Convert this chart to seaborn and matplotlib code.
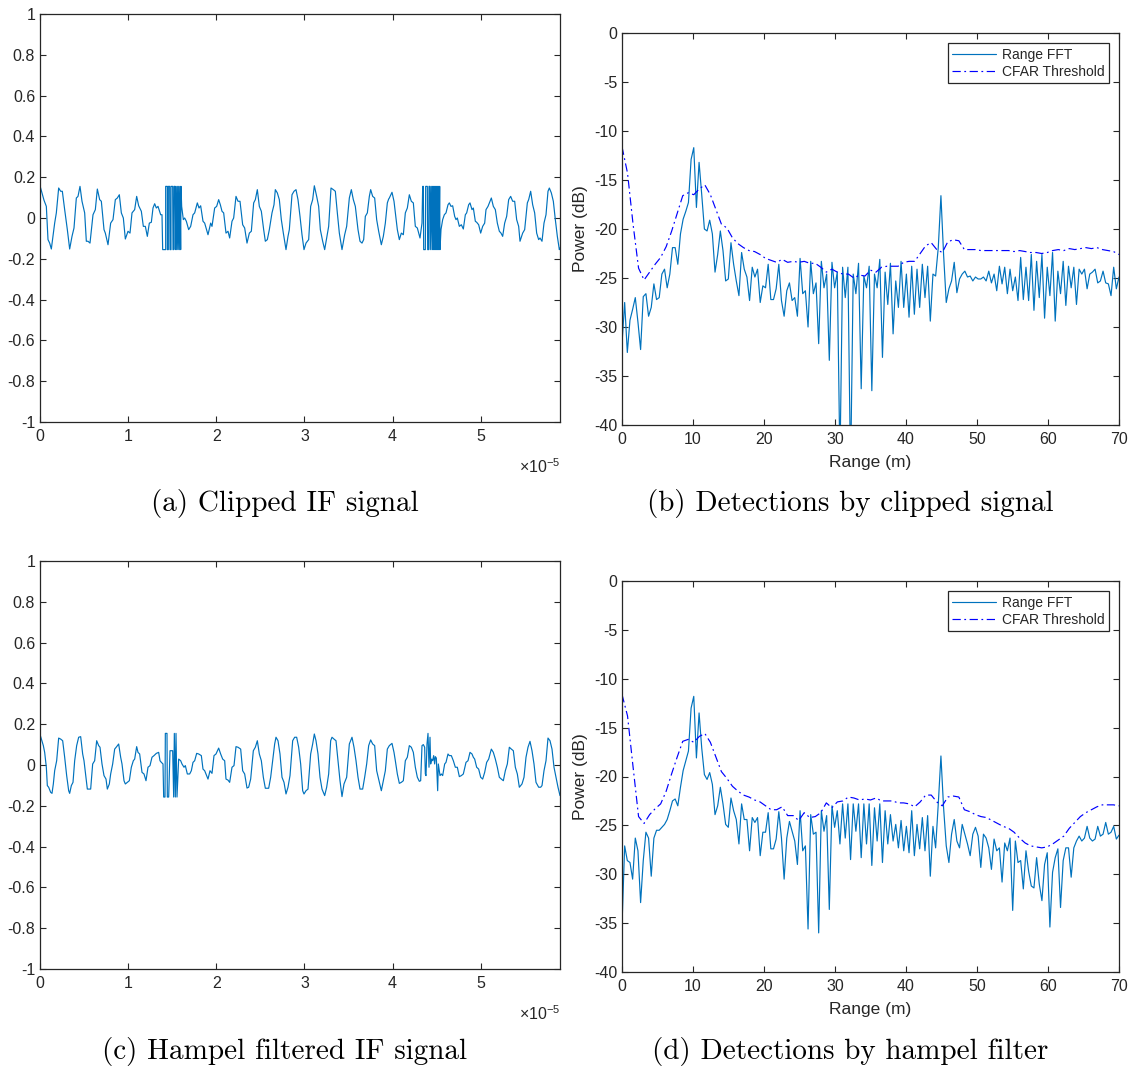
import numpy as np
import matplotlib
matplotlib.use("Agg")
import matplotlib.pyplot as plt
import seaborn as sns

# ---------------------------------------------------------------- data
SAMPLE_RATE = 26.44e6          # IF sampling rate (Hz)
AMP_SCALE = 1e-3               # amplitudes below are stored in thousandths

# Clipped IF signal: vertex sample indices and amplitudes
clipped_n = [
    0, 12, 19, 24, 29, 34, 44, 49, 56, 62, 67, 74, 82, 89, 96, 102, 109, 114, 120, 126,
    134, 139, 144, 150, 159, 166, 172, 179, 184, 192, 196, 204, 212, 219, 226, 232, 238, 244, 250, 256,
    264, 270, 276, 284, 290, 296, 304, 310, 316, 322, 328, 334, 339, 344, 349, 354, 362, 366,
    368, 377, 377, 382, 382, 385, 385, 389, 390, 393, 393, 398, 399, 401, 402, 405, 406, 408, 410, 412,
    414, 416, 418, 420, 422, 423,
    425, 430, 434, 439, 446, 452, 459, 464, 472, 477, 482, 489, 494, 504, 512,
    516, 524, 530, 536, 541, 546, 551, 558, 564, 569, 576, 581, 588, 594, 600, 608, 614, 621, 628, 634,
    641, 646, 652, 658, 664, 671, 676, 682, 688, 696, 702, 706, 712, 718, 724, 730, 738, 744, 748, 756,
    762, 768, 774, 780, 786, 792, 798, 806, 812, 818, 823, 830, 836, 841, 848, 854, 861, 866, 873, 880,
    886, 892, 898, 906, 914, 920, 928, 934, 940, 946, 954, 960, 966, 971, 976, 982, 988, 992, 998, 1004,
    1010, 1016, 1024, 1030, 1036, 1042, 1046,
    1048, 1056, 1062, 1066, 1072, 1078, 1084, 1090, 1096, 1102, 1108, 1114, 1120, 1126, 1132, 1140, 1146,
    1148, 1150, 1151, 1156, 1157, 1162, 1163, 1166, 1167, 1170, 1171, 1174, 1176, 1178, 1179, 1181, 1182,
    1184, 1185, 1187, 1188, 1190, 1191, 1193, 1194, 1196, 1197, 1199, 1200,
    1203, 1208, 1213, 1218, 1224, 1228, 1233, 1238, 1244, 1248, 1252, 1258, 1264, 1270, 1276, 1280, 1286,
    1290, 1296, 1300, 1306, 1310, 1316, 1322, 1328, 1334, 1338, 1344, 1354, 1360, 1366, 1372, 1378, 1383,
    1388, 1394, 1400, 1406, 1412, 1418, 1424, 1430, 1436, 1440, 1448, 1454, 1462, 1466, 1472, 1478, 1484,
    1490, 1496, 1500, 1506, 1512, 1518, 1524, 1528, 1534, 1540, 1546, 1552, 1558, 1560,
]
clipped_amp = [
    158, 87, 57, -106, -123, -152, -25, 25, 147, 131, 131, 41, -57, -152, -90, -49, 98, 106, 155, 82,
    25, -114, -114, -123, 16, 41, 142, 90, 82, -57, -74, -131, -25, -8, 90, 98, 114, 25, 0, -103,
    -65, -74, 25, 41, 106, 60, 33, -41, -41, -90, -25, -21, 49, 70, 49, 57, 16, 16,
    -155, -155, 155, 155, -155, -155, 155, 155, -155, -155, 155, 155, -155, -155, 155, 155, -155, 155,
    -155, 155, -155, 155, -155, 155, -155, 155,
    57, -8, 0, -16, -57, -41, 16, 25, 74, 49, 60, -16, -25, -82, -25,
    -41, 49, 57, 90, 65, 33, 25, -74, -65, -98, -16, 0, 106, 82, 82, -33, -49, -123, -74, -65,
    74, 90, 139, 57, 33, -57, -114, -106, -57, 25, 65, 139, 123, 90, -8, -74, -155, -90, -57, 114,
    131, 139, 90, 8, -82, -155, -123, -106, 57, 90, 158, 106, 57, -57, -114, -155, -90, -41, 147, 139,
    131, 25, -74, -155, -82, -41, 98, 139, 90, 57, -57, -114, -123, -106, 8, 25, 106, 139, 106, 98,
    -8, -65, -131, -90, -25, 74, 93,
    98, 126, 82, 25, -57, -106, -74, -82, 25, 49, 114, 82, 74, -41, -49, -98, -25,
    155, 155, -155, -155, 155, 155, -155, -155, 155, 155, -155, 155, -155, 155, -155, 155, -155,
    155, -155, 155, -155, 155, -155, 155, -155, 155, -155, 155, -155,
    -57, -8, 16, 25, 65, 74, 57, 60, 8, -8, 0, -41, -33, -54, 16, 25, 65,
    74, 41, 49, -16, -21, -33, -74, -41, -25, 41, 57, 98, 57, 41, -25, -65, -74,
    -90, -25, 8, 90, 106, 82, 82, -8, -41, -114, -74, -57, 74, 90, 131, 65, 25,
    -74, -106, -98, -114, -25, 16, 131, 147, 123, 82, -8, -90, -155, -147,
]

# Hampel-filtered IF signal: vertex sample indices and amplitudes
hampel_n = [
    0, 10, 14, 19, 22, 26, 32, 36, 40, 44, 50, 56, 62, 68, 74, 80, 86, 89, 94, 99,
    104, 110, 116, 122, 128, 132, 138, 142, 152, 158, 164, 170, 176, 180, 186, 192, 198, 202, 208, 212,
    218, 224, 230, 236, 242, 246, 252, 256, 262, 268, 274, 280, 284, 290, 294, 299, 306, 312, 318, 324,
    330, 336, 342, 349, 356, 360, 364, 369,
    371, 375, 376, 381, 382, 386, 390, 398, 401, 403, 406, 408, 411,
    416, 422, 426, 432, 436, 442, 449, 454, 459, 464, 470, 476, 484, 489, 494, 504, 510,
    516, 522, 528, 536, 542, 548, 554, 558, 564, 569, 576, 582, 588, 594, 602, 608, 614, 621, 626, 632,
    640, 646, 652, 658, 664, 670, 676, 686, 692, 698, 704, 708, 714, 720, 726, 732, 738, 744, 750, 758,
    764, 770, 776, 782, 788, 792, 798, 804, 812, 818, 823, 828, 834, 840, 846, 854, 860, 866, 872, 876,
    882, 888, 894, 900, 906, 912, 920, 928, 936, 942, 948, 954, 960, 968, 974, 980, 986, 992, 998, 1004,
    1010, 1016, 1024, 1030, 1036, 1042, 1046,
    1048, 1056, 1062, 1066, 1072, 1078, 1084, 1090, 1096, 1102, 1108, 1114, 1120, 1126, 1132, 1138, 1142,
    1146, 1150, 1154, 1156, 1158, 1161, 1164, 1167, 1170, 1172, 1175, 1178, 1181, 1184, 1186, 1189, 1191,
    1193, 1195, 1200,
    1204, 1208, 1214, 1218, 1224, 1228, 1234, 1240, 1246, 1252, 1258, 1264, 1270, 1278, 1284, 1290, 1296,
    1300, 1304, 1310, 1316, 1322, 1328, 1334, 1340, 1346, 1354, 1360, 1366, 1372, 1378, 1384, 1390, 1396,
    1402, 1408, 1414, 1420, 1426, 1432, 1438, 1446, 1452, 1458, 1464, 1470, 1476, 1482, 1488, 1496, 1502,
    1506, 1512, 1518, 1524, 1530, 1536, 1542, 1548, 1554, 1560,
]
hampel_amp = [
    150, 95, 62, -11, -101, -109, -134, -139, -93, -28, 21, 132, 127, 119, 38, -52, -126, -139, -101, -85,
    21, 95, 136, 139, 54, 21, -60, -118, -118, 5, 21, 119, 95, 87, 5, -52, -69, -118, -93, -44,
    5, 78, 90, 103, 38, 5, -77, -93, -85, -77, -11, 21, 29, 90, 62, 54, -36, -44, -77, -11,
    -3, 38, 46, 57, 62, 21, 13, 5,
    -157, -157, 155, 155, -157, -157, 70, 70, -157, 155, -157, 155, -157,
    29, 21, 5, -11, -3, -44, -44, -28, 13, 21, 57, 54, 46, -20, -28, -69, -28,
    -41, 46, 54, 83, 54, 29, 21, -69, -74, -85, -11, -3, 90, 87, 78, -28, -44, -113, -109, -69,
    70, 87, 119, 54, 21, -60, -114, -114, -60, 21, 103, 136, 119, 54, -60, -85, -142, -109, -52, 119,
    136, 136, 87, 5, -126, -142, -126, -118, 54, 103, 152, 119, 54, -60, -118, -150, -109, -44, 119, 136,
    127, 119, 21, -77, -155, -93, -60, 103, 136, 87, 21, -60, -118, -118, -60, 5, 95, 123, 103, 95,
    -28, -69, -126, -77, -28, 78, 90,
    95, 106, 62, 21, -44, -90, -85, -77, 21, 38, 95, 87, 62, -11, -60, -80, -77,
    95, 100, 87, -44, -52, 103, 155, -11, 136, 5, 29, 21, 46, 5, 41, 34, -44,
    -126, 5, -52,
    -44, -52, 5, 13, 54, 46, 46, 21, -11, -11, -57, -52, -44, 13, 21, 62, 54,
    38, 29, -11, -20, -60, -69, -36, 13, 29, 78, 62, 29, -11, -60, -69, -77, -28,
    5, 87, 78, 70, -11, -44, -109, -93, -60, 38, 87, 116, 70, 5, -85, -109, -109,
    -101, -28, 21, 132, 119, 78, -11, -60, -109, -150,
]

# Range profiles (dB), uniform range bins from 0 to 70 m
MAX_RANGE = 70.0
fft_clipped = [
    -31.7, -27.5, -32.6, -29.3, -28.2, -27.0, -29.5, -32.3, -26.9, -26.6, -28.9, -28.0, -25.6, -27.2,
    -27.0, -24.6, -24.1, -26.0, -24.6, -21.9, -21.9, -23.6, -20.5, -19.0, -18.2, -17.3, -12.9, -11.7,
    -17.8, -13.2, -16.5, -20.0, -20.2, -19.1, -20.5, -24.4, -22.6, -20.2, -22.2, -25.3, -25.1, -21.4,
    -23.6, -25.3, -26.8, -22.4, -24.1, -24.9, -27.3, -23.9, -24.9, -24.1, -27.5, -25.8, -26.0, -23.6,
    -27.2, -27.2, -26.1, -23.6, -27.3, -28.9, -26.3, -25.5, -27.3, -27.0, -28.9, -23.0, -26.6, -26.3,
    -30.0, -23.3, -26.6, -25.5, -31.7, -23.3, -26.0, -24.6, -33.4, -23.4, -26.0, -24.4, -44.0, -23.9,
    -27.0, -23.9, -45.0, -24.6, -26.6, -23.5, -36.3, -24.8, -26.0, -23.8, -36.5, -24.6, -26.0, -23.1,
    -33.1, -24.4, -27.7, -23.5, -30.7, -25.3, -28.0, -23.3, -28.0, -24.6, -29.0, -23.8, -28.7, -24.1,
    -28.0, -23.6, -27.0, -23.8, -29.4, -24.6, -24.8, -21.9, -16.6, -22.6, -27.5, -26.1, -25.3, -23.4,
    -26.5, -25.1, -24.6, -24.3, -24.9, -24.8, -25.3, -24.9, -25.1, -25.1, -24.9, -25.3, -24.3, -25.5,
    -24.6, -26.3, -23.8, -25.6, -23.9, -26.6, -24.1, -26.3, -24.9, -27.3, -22.9, -27.2, -23.9, -27.3,
    -22.6, -28.3, -23.3, -27.0, -22.6, -29.1, -23.9, -26.8, -22.4, -29.4, -24.3, -26.6, -23.3, -27.8,
    -23.8, -26.0, -23.9, -27.7, -24.1, -24.6, -24.1, -26.1, -24.6, -24.4, -24.1, -25.5, -25.3, -24.3,
    -25.5, -25.6, -26.8, -23.9, -26.1, -24.9,
]
fft_hampel = [
    -35.3, -27.1, -28.6, -28.8, -30.5, -26.3, -27.6, -32.9, -28.6, -25.7, -26.3, -30.2, -26.3, -25.5,
    -25.5, -25.2, -24.9, -24.4, -23.5, -22.5, -22.3, -23.0, -21.1, -19.4, -18.4, -17.4, -13.0, -11.8,
    -18.1, -13.5, -17.1, -19.8, -20.3, -19.6, -20.8, -23.9, -23.0, -21.1, -22.8, -24.9, -25.2, -22.2,
    -23.5, -24.4, -26.9, -22.8, -24.4, -24.4, -27.6, -24.2, -24.7, -24.2, -28.1, -25.7, -25.7, -23.7,
    -27.4, -27.4, -26.4, -23.6, -26.3, -30.5, -26.3, -24.6, -25.6, -26.6, -29.0, -23.5, -27.6, -27.1,
    -35.6, -23.9, -25.9, -25.7, -36.0, -23.5, -25.6, -24.0, -33.6, -23.0, -25.2, -23.5, -26.9, -22.8,
    -26.3, -22.8, -28.5, -22.8, -25.6, -22.8, -28.3, -22.8, -26.9, -22.8, -29.1, -23.2, -26.6, -22.8,
    -28.8, -23.5, -26.9, -23.9, -26.6, -24.9, -27.3, -24.5, -27.6, -25.1, -27.8, -23.5, -28.1, -24.9,
    -27.4, -24.2, -27.6, -24.0, -30.2, -25.1, -27.3, -22.8, -17.9, -23.2, -27.1, -28.8, -25.9, -24.4,
    -26.6, -27.3, -24.9, -25.9, -26.9, -28.1, -25.9, -25.2, -26.1, -29.3, -25.9, -26.3, -27.3, -29.5,
    -26.4, -27.6, -27.3, -30.8, -26.8, -27.6, -26.3, -33.7, -26.6, -28.8, -28.6, -31.5, -27.6, -29.7,
    -31.2, -31.4, -28.3, -31.0, -32.7, -29.0, -27.8, -35.4, -29.8, -28.3, -27.4, -33.4, -28.6, -27.3,
    -27.3, -30.3, -27.3, -26.6, -26.1, -26.6, -26.3, -25.1, -26.3, -26.6, -26.4, -25.1, -26.1, -25.9,
    -24.7, -25.9, -25.7, -25.1, -26.4, -26.0,
]
cfar_clipped = [
    -11.6, -14.3, -19.5, -24.0, -25.2, -24.4, -23.6, -22.9, -21.8, -20.2, -18.4, -16.6, -16.3, -16.5,
    -15.9, -15.5, -16.5, -18.0, -19.5, -19.9, -20.9, -21.5, -21.9, -22.2, -22.3, -22.6, -23.0, -23.2,
    -23.4, -23.1, -23.4, -23.3, -23.4, -23.3, -23.5, -23.5, -23.9, -24.4, -24.1, -24.4, -24.6, -24.6,
    -25.0, -24.7, -24.8, -24.2, -24.4, -23.9, -23.8, -23.8, -23.8, -23.4, -23.3, -23.3, -22.5, -21.7,
    -21.4, -22.1, -22.4, -21.3, -21.1, -21.2, -22.1, -22.1, -22.1, -22.2, -22.2, -22.2, -22.2, -22.2,
    -22.2, -22.3, -22.2, -22.3, -22.4, -22.4, -22.5, -22.4, -22.2, -22.1, -22.2, -22.0, -22.1, -22.0,
    -21.9, -22.0, -21.9, -22.1, -22.2, -22.3, -22.6,
]
cfar_hampel = [
    -11.6, -13.8, -19.0, -24.1, -24.8, -23.9, -23.3, -22.8, -21.5, -19.7, -18.0, -16.4, -16.2, -16.5,
    -15.9, -15.6, -16.5, -18.0, -19.5, -20.2, -21.0, -21.5, -21.9, -22.1, -22.4, -22.6, -23.0, -23.4,
    -23.4, -23.1, -24.0, -24.0, -24.5, -23.7, -24.2, -24.1, -23.7, -22.7, -23.2, -22.6, -22.5, -22.1,
    -22.2, -22.4, -22.3, -22.4, -22.2, -22.5, -22.5, -22.5, -22.7, -22.7, -22.8, -23.1, -22.6, -21.9,
    -21.9, -22.6, -23.0, -22.1, -22.0, -22.1, -23.4, -23.6, -23.9, -24.1, -24.2, -24.5, -24.8, -25.1,
    -25.3, -25.7, -26.3, -26.8, -27.1, -27.2, -27.3, -27.2, -26.9, -26.5, -26.1, -25.3, -24.7, -24.1,
    -23.7, -23.4, -23.1, -22.9, -22.9, -22.9, -23.0,
]

captions = [
    "(a) Clipped IF signal",
    "(b) Detections by clipped signal",
    "(c) Hampel filtered IF signal",
    "(d) Detections by hampel filter",
]

# ---------------------------------------------------------------- style
sns.set_style("ticks")
INK = "#262626"
plt.rcParams.update({
    "font.family": ["Liberation Sans", "DejaVu Sans"],
    "axes.unicode_minus": False,
    "mathtext.fontset": "custom",
    "mathtext.rm": "Liberation Sans",
    "mathtext.it": "Liberation Sans",
    "axes.edgecolor": INK,
    "axes.linewidth": 0.9,
    "xtick.color": INK,
    "ytick.color": INK,
    "xtick.direction": "in",
    "ytick.direction": "in",
    "xtick.top": True,
    "ytick.right": True,
    "xtick.major.size": 4.5,
    "ytick.major.size": 4.5,
    "xtick.major.width": 0.8,
    "ytick.major.width": 0.8,
    "xtick.major.pad": 5,
    "xtick.labelsize": 11.5,
    "ytick.labelsize": 11.5,
    "axes.labelsize": 12.5,
    "axes.labelcolor": INK,
})

SIG_BLUE = "#0072BD"
THR_BLUE = "#0000FF"
LW = 0.85

W, H = 1143, 1073
fig = plt.figure(figsize=(W / 100, H / 100), dpi=100)


def box(x0, y0, x1, y1):
    return [x0 / W, 1 - y1 / H, (x1 - x0) / W, (y1 - y0) / H]


def fmt(v):
    s = f"{v:g}"
    return "0" if s in ("-0", "0") else s


def time_panel(rect, n, amp):
    ax = fig.add_axes(rect)
    t = np.asarray(n) / SAMPLE_RATE
    a = np.asarray(amp) * AMP_SCALE
    sns.lineplot(x=t, y=a, ax=ax, estimator=None, sort=False,
                 color=SIG_BLUE, linewidth=LW)
    ax.set_xlim(0, t.max())
    ax.set_ylim(-1, 1)
    yt = np.round(np.arange(-1, 1.01, 0.2), 1)
    ax.set_yticks(yt)
    ax.set_yticklabels([fmt(v) for v in yt])
    xt = np.arange(0, 6) * 1e-5
    ax.set_xticks(xt)
    ax.set_xticklabels([str(k) for k in range(6)])
    ax.text(1.0, -0.086, r"$\times 10^{-5}$", transform=ax.transAxes,
            ha="right", va="top", fontsize=11.5, color=INK)
    ax.set_xlabel("")
    ax.set_ylabel("")
    return ax


def range_panel(rect, fft, cfar):
    ax = fig.add_axes(rect)
    r_fft = np.linspace(0, MAX_RANGE, len(fft))
    r_thr = np.linspace(0, MAX_RANGE, len(cfar))
    sns.lineplot(x=r_fft, y=fft, ax=ax, estimator=None, sort=False,
                 color=SIG_BLUE, linewidth=LW, label="Range FFT")
    sns.lineplot(x=r_thr, y=cfar, ax=ax, estimator=None, sort=False,
                 color=THR_BLUE, linewidth=LW, label="CFAR Threshold")
    ax.lines[1].set_linestyle((0, (7, 3, 1.5, 3)))
    ax.set_xlim(0, MAX_RANGE)
    ax.set_ylim(-40, 0)
    ax.set_xticks(np.arange(0, 71, 10))
    yt = np.arange(-40, 1, 5)
    ax.set_yticks(yt)
    ax.set_yticklabels([fmt(v) for v in yt])
    ax.set_xlabel("Range (m)", labelpad=6)
    ax.set_ylabel("Power (dB)", labelpad=4)
    leg = ax.legend(loc="upper right", fontsize=10, frameon=True, fancybox=False,
                    borderaxespad=0.75, borderpad=0.3, labelspacing=0.25,
                    handlelength=3.2, handletextpad=0.4)
    frame = leg.get_frame()
    frame.set_edgecolor(INK)
    frame.set_linewidth(0.9)
    frame.set_alpha(1)
    return ax


time_panel(box(40, 14, 560, 422), clipped_n, clipped_amp)
range_panel(box(622, 33, 1119, 425), fft_clipped, cfar_clipped)
time_panel(box(40, 561, 560, 969), hampel_n, hampel_amp)
range_panel(box(622, 581, 1119, 972), fft_hampel, cfar_hampel)

cap_pos = [(285, 503), (850, 503), (285, 1052), (850, 1052)]
for (cx, cy), text in zip(cap_pos, captions):
    fig.text(cx / W, 1 - cy / H, text, ha="center", va="center",
             fontsize=21, family="cmr10", color="black")

fig.savefig("out.png", dpi=100, facecolor="white")
